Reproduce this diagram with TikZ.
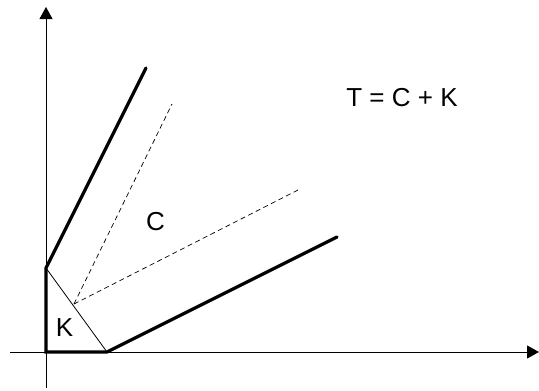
\documentclass[tikz,border=0pt]{standalone}
\usepackage{fontspec}
\setmainfont{Liberation Sans}
\usetikzlibrary{arrows.meta}

\begin{document}
\begin{tikzpicture}[
  x=1pt, y=-1pt,
  every node/.style={font=\fontsize{26}{29}\selectfont, inner sep=0pt},
  axis/.style={-{Triangle[length=12pt, width=13pt]}, line width=1pt},
  bound/.style={line width=3.2pt, line cap=round, line join=miter},
  split/.style={line width=0.8pt},
  ray/.style={dashed, dash pattern=on 5pt off 3.5pt, line width=0.7pt}
]
\useasboundingbox (0,0) rectangle (539,391);

% axes
\coordinate (xl) at (10,352);
\coordinate (xr) at (539,352);
\coordinate (yb) at (46,388);
\coordinate (yt) at (46,7);
\draw[axis] (xl) -- (xr);
\draw[axis] (yb) -- (yt);

% corner of the cone
\coordinate (top)  at (146,68);
\coordinate (kup)  at (46,268);
\coordinate (o)    at (46,352);
\coordinate (krt)  at (107,352);
\coordinate (rgt)  at (337,237);
\draw[bound] (top) -- (kup) -- (o) -- (krt) -- (rgt);
\draw[split] (kup) -- (krt);

% dashed rays
\coordinate (foot) at (74,304);
\coordinate (ra)   at (172,104);
\coordinate (rb)   at (298,190);
\draw[ray] (foot) -- (ra);
\draw[ray] (foot) -- (rb);

\node (eq)   at (402,98)    {T = C + K};
\node (lblc) at (155.5,222) {C};
\node (lblk) at (64.5,328)  {K};
\end{tikzpicture}
\end{document}
